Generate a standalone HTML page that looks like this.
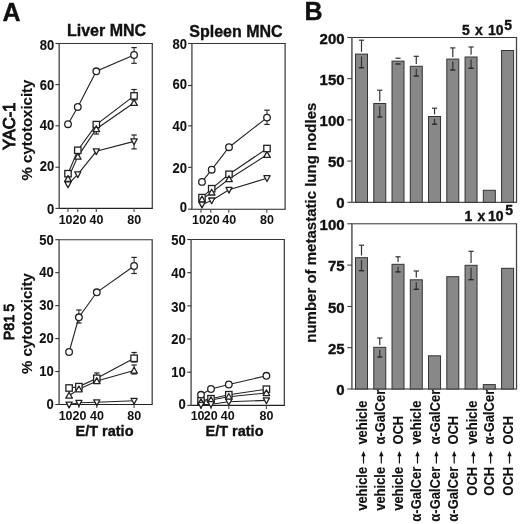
<!DOCTYPE html>
<html><head><meta charset="utf-8"><style>
html,body{margin:0;padding:0;background:#fff;}
svg{display:block;will-change:transform;filter:blur(0.3px);}
text{font-family:"Liberation Sans", sans-serif;fill:#111;stroke:#111;stroke-width:0.35px;}
</style></head><body>
<svg width="520" height="524" viewBox="0 0 520 524">
<rect width="520" height="524" fill="#fff"/>
<line x1="58.50" y1="43.50" x2="152.90" y2="43.50" stroke="#333" stroke-width="1.1" />
<line x1="58.50" y1="208.40" x2="152.90" y2="208.40" stroke="#222" stroke-width="1.1" />
<line x1="59.20" y1="43.50" x2="59.20" y2="208.40" stroke="#666" stroke-width="1.6" />
<line x1="152.30" y1="43.50" x2="152.30" y2="208.40" stroke="#444" stroke-width="1.3" />
<line x1="55.40" y1="43.50" x2="59.20" y2="43.50" stroke="#333" stroke-width="1.1" />
<text transform="translate(54.20,49.80) scale(1,1.08)" font-size="13" font-weight="bold" text-anchor="end" style="stroke-width:0.1px">80</text>
<line x1="55.40" y1="84.60" x2="59.20" y2="84.60" stroke="#333" stroke-width="1.1" />
<text transform="translate(54.20,89.90) scale(1,1.08)" font-size="13" font-weight="bold" text-anchor="end" style="stroke-width:0.1px">60</text>
<line x1="55.40" y1="125.80" x2="59.20" y2="125.80" stroke="#333" stroke-width="1.1" />
<text transform="translate(54.20,130.20) scale(1,1.08)" font-size="13" font-weight="bold" text-anchor="end" style="stroke-width:0.1px">40</text>
<line x1="55.40" y1="167.20" x2="59.20" y2="167.20" stroke="#333" stroke-width="1.1" />
<text transform="translate(54.20,170.80) scale(1,1.08)" font-size="13" font-weight="bold" text-anchor="end" style="stroke-width:0.1px">20</text>
<line x1="55.40" y1="208.40" x2="59.20" y2="208.40" stroke="#333" stroke-width="1.1" />
<text transform="translate(54.20,213.80) scale(1,1.08)" font-size="13" font-weight="bold" text-anchor="end" style="stroke-width:0.1px">0</text>
<line x1="68.00" y1="208.40" x2="68.00" y2="212.00" stroke="#555" stroke-width="1.2" />
<line x1="77.80" y1="208.40" x2="77.80" y2="212.00" stroke="#555" stroke-width="1.2" />
<line x1="96.30" y1="208.40" x2="96.30" y2="212.00" stroke="#555" stroke-width="1.2" />
<line x1="134.05" y1="208.40" x2="134.05" y2="212.00" stroke="#555" stroke-width="1.2" />
<text transform="translate(65.60,224.00) scale(1,1.08)" font-size="12.5" font-weight="bold" text-anchor="middle" style="stroke-width:0">10</text>
<text transform="translate(79.40,224.00) scale(1,1.08)" font-size="12.5" font-weight="bold" text-anchor="middle" style="stroke-width:0">20</text>
<text transform="translate(96.50,224.00) scale(1,1.08)" font-size="12.5" font-weight="bold" text-anchor="middle" style="stroke-width:0">40</text>
<text transform="translate(134.30,224.00) scale(1,1.08)" font-size="12.5" font-weight="bold" text-anchor="middle" style="stroke-width:0">80</text>
<line x1="134.05" y1="47.60" x2="134.05" y2="63.30" stroke="#222" stroke-width="1" />
<line x1="131.35" y1="47.60" x2="136.75" y2="47.60" stroke="#222" stroke-width="1.2" />
<line x1="131.35" y1="63.30" x2="136.75" y2="63.30" stroke="#222" stroke-width="1.2" />
<line x1="134.05" y1="89.50" x2="134.05" y2="100.00" stroke="#222" stroke-width="1" />
<line x1="131.35" y1="89.50" x2="136.75" y2="89.50" stroke="#222" stroke-width="1.2" />
<line x1="131.35" y1="100.00" x2="136.75" y2="100.00" stroke="#222" stroke-width="1.2" />
<line x1="134.05" y1="135.00" x2="134.05" y2="148.90" stroke="#222" stroke-width="1" />
<line x1="131.35" y1="135.00" x2="136.75" y2="135.00" stroke="#222" stroke-width="1.2" />
<line x1="131.35" y1="148.90" x2="136.75" y2="148.90" stroke="#222" stroke-width="1.2" />
<line x1="96.30" y1="122.00" x2="96.30" y2="134.00" stroke="#222" stroke-width="1" />
<line x1="93.60" y1="122.00" x2="99.00" y2="122.00" stroke="#222" stroke-width="1.2" />
<line x1="93.60" y1="134.00" x2="99.00" y2="134.00" stroke="#222" stroke-width="1.2" />
<polyline points="68.00,124.20 77.80,107.00 96.30,71.30 134.05,55.00" fill="none" stroke="#222" stroke-width="1.1"/>
<polyline points="68.00,173.70 77.80,150.30 96.30,124.60 134.05,95.90" fill="none" stroke="#222" stroke-width="1.1"/>
<polyline points="68.00,178.80 77.80,156.60 96.30,129.00 134.05,102.80" fill="none" stroke="#222" stroke-width="1.1"/>
<polyline points="68.00,184.40 77.80,174.30 96.30,151.30 134.05,141.40" fill="none" stroke="#222" stroke-width="1.1"/>
<circle cx="68.00" cy="124.20" r="3.3" fill="#fff" stroke="#222" stroke-width="1.3"/>
<circle cx="77.80" cy="107.00" r="3.3" fill="#fff" stroke="#222" stroke-width="1.3"/>
<circle cx="96.30" cy="71.30" r="3.3" fill="#fff" stroke="#222" stroke-width="1.3"/>
<circle cx="134.05" cy="55.00" r="3.3" fill="#fff" stroke="#222" stroke-width="1.3"/>
<rect x="64.80" y="170.50" width="6.4" height="6.4" fill="#fff" stroke="#222" stroke-width="1.3"/>
<rect x="74.60" y="147.10" width="6.4" height="6.4" fill="#fff" stroke="#222" stroke-width="1.3"/>
<rect x="93.10" y="121.40" width="6.4" height="6.4" fill="#fff" stroke="#222" stroke-width="1.3"/>
<rect x="130.85" y="92.70" width="6.4" height="6.4" fill="#fff" stroke="#222" stroke-width="1.3"/>
<path d="M68.00 175.60L71.30 181.40L64.70 181.40Z" fill="#fff" stroke="#222" stroke-width="1.3" stroke-linejoin="round"/>
<path d="M77.80 153.40L81.10 159.20L74.50 159.20Z" fill="#fff" stroke="#222" stroke-width="1.3" stroke-linejoin="round"/>
<path d="M96.30 125.80L99.60 131.60L93.00 131.60Z" fill="#fff" stroke="#222" stroke-width="1.3" stroke-linejoin="round"/>
<path d="M134.05 99.60L137.35 105.40L130.75 105.40Z" fill="#fff" stroke="#222" stroke-width="1.3" stroke-linejoin="round"/>
<path d="M64.90 181.90L71.10 181.90L68.00 187.70Z" fill="#fff" stroke="#222" stroke-width="1.3" stroke-linejoin="round"/>
<path d="M74.70 171.80L80.90 171.80L77.80 177.60Z" fill="#fff" stroke="#222" stroke-width="1.3" stroke-linejoin="round"/>
<path d="M93.20 148.80L99.40 148.80L96.30 154.60Z" fill="#fff" stroke="#222" stroke-width="1.3" stroke-linejoin="round"/>
<path d="M130.95 138.90L137.15 138.90L134.05 144.70Z" fill="#fff" stroke="#222" stroke-width="1.3" stroke-linejoin="round"/>
<line x1="191.20" y1="43.50" x2="285.70" y2="43.50" stroke="#333" stroke-width="1.1" />
<line x1="191.20" y1="209.20" x2="285.70" y2="209.20" stroke="#222" stroke-width="1.1" />
<line x1="191.90" y1="43.50" x2="191.90" y2="209.20" stroke="#666" stroke-width="1.6" />
<line x1="285.10" y1="43.50" x2="285.10" y2="209.20" stroke="#444" stroke-width="1.3" />
<line x1="188.10" y1="43.50" x2="191.90" y2="43.50" stroke="#333" stroke-width="1.1" />
<text transform="translate(187.00,48.90) scale(1,1.08)" font-size="13" font-weight="bold" text-anchor="end" style="stroke-width:0.1px">80</text>
<line x1="188.10" y1="85.50" x2="191.90" y2="85.50" stroke="#333" stroke-width="1.1" />
<text transform="translate(187.00,89.30) scale(1,1.08)" font-size="13" font-weight="bold" text-anchor="end" style="stroke-width:0.1px">60</text>
<line x1="188.10" y1="125.85" x2="191.90" y2="125.85" stroke="#333" stroke-width="1.1" />
<text transform="translate(187.00,131.10) scale(1,1.08)" font-size="13" font-weight="bold" text-anchor="end" style="stroke-width:0.1px">40</text>
<line x1="188.10" y1="167.35" x2="191.90" y2="167.35" stroke="#333" stroke-width="1.1" />
<text transform="translate(187.00,172.50) scale(1,1.08)" font-size="13" font-weight="bold" text-anchor="end" style="stroke-width:0.1px">20</text>
<line x1="188.10" y1="209.20" x2="191.90" y2="209.20" stroke="#333" stroke-width="1.1" />
<text transform="translate(187.00,211.90) scale(1,1.08)" font-size="13" font-weight="bold" text-anchor="end" style="stroke-width:0.1px">0</text>
<line x1="201.00" y1="209.20" x2="201.00" y2="212.80" stroke="#555" stroke-width="1.2" />
<line x1="210.70" y1="209.20" x2="210.70" y2="212.80" stroke="#555" stroke-width="1.2" />
<line x1="228.80" y1="209.20" x2="228.80" y2="212.80" stroke="#555" stroke-width="1.2" />
<line x1="266.80" y1="209.20" x2="266.80" y2="212.80" stroke="#555" stroke-width="1.2" />
<text transform="translate(199.00,224.00) scale(1,1.08)" font-size="12.5" font-weight="bold" text-anchor="middle" style="stroke-width:0">10</text>
<text transform="translate(212.80,224.00) scale(1,1.08)" font-size="12.5" font-weight="bold" text-anchor="middle" style="stroke-width:0">20</text>
<text transform="translate(229.30,224.00) scale(1,1.08)" font-size="12.5" font-weight="bold" text-anchor="middle" style="stroke-width:0">40</text>
<text transform="translate(267.00,224.00) scale(1,1.08)" font-size="12.5" font-weight="bold" text-anchor="middle" style="stroke-width:0">80</text>
<line x1="267.00" y1="110.20" x2="267.00" y2="124.40" stroke="#222" stroke-width="1" />
<line x1="264.30" y1="110.20" x2="269.70" y2="110.20" stroke="#222" stroke-width="1.2" />
<line x1="264.30" y1="124.40" x2="269.70" y2="124.40" stroke="#222" stroke-width="1.2" />
<polyline points="202.00,181.90 211.70,169.70 229.00,147.20 267.00,117.60" fill="none" stroke="#222" stroke-width="1.1"/>
<polyline points="202.00,197.60 211.70,188.70 229.00,174.30 267.00,148.50" fill="none" stroke="#222" stroke-width="1.1"/>
<polyline points="202.00,199.30 211.70,192.40 229.00,179.00 267.00,154.80" fill="none" stroke="#222" stroke-width="1.1"/>
<polyline points="202.00,204.60 211.70,200.50 229.00,189.80 267.00,178.20" fill="none" stroke="#222" stroke-width="1.1"/>
<circle cx="202.00" cy="181.90" r="3.3" fill="#fff" stroke="#222" stroke-width="1.3"/>
<circle cx="211.70" cy="169.70" r="3.3" fill="#fff" stroke="#222" stroke-width="1.3"/>
<circle cx="229.00" cy="147.20" r="3.3" fill="#fff" stroke="#222" stroke-width="1.3"/>
<circle cx="267.00" cy="117.60" r="3.3" fill="#fff" stroke="#222" stroke-width="1.3"/>
<rect x="198.80" y="194.40" width="6.4" height="6.4" fill="#fff" stroke="#222" stroke-width="1.3"/>
<rect x="208.50" y="185.50" width="6.4" height="6.4" fill="#fff" stroke="#222" stroke-width="1.3"/>
<rect x="225.80" y="171.10" width="6.4" height="6.4" fill="#fff" stroke="#222" stroke-width="1.3"/>
<rect x="263.80" y="145.30" width="6.4" height="6.4" fill="#fff" stroke="#222" stroke-width="1.3"/>
<path d="M202.00 196.10L205.30 201.90L198.70 201.90Z" fill="#fff" stroke="#222" stroke-width="1.3" stroke-linejoin="round"/>
<path d="M211.70 189.20L215.00 195.00L208.40 195.00Z" fill="#fff" stroke="#222" stroke-width="1.3" stroke-linejoin="round"/>
<path d="M229.00 175.80L232.30 181.60L225.70 181.60Z" fill="#fff" stroke="#222" stroke-width="1.3" stroke-linejoin="round"/>
<path d="M267.00 151.60L270.30 157.40L263.70 157.40Z" fill="#fff" stroke="#222" stroke-width="1.3" stroke-linejoin="round"/>
<path d="M198.90 202.10L205.10 202.10L202.00 207.90Z" fill="#fff" stroke="#222" stroke-width="1.3" stroke-linejoin="round"/>
<path d="M208.60 198.00L214.80 198.00L211.70 203.80Z" fill="#fff" stroke="#222" stroke-width="1.3" stroke-linejoin="round"/>
<path d="M225.90 187.30L232.10 187.30L229.00 193.10Z" fill="#fff" stroke="#222" stroke-width="1.3" stroke-linejoin="round"/>
<path d="M263.90 175.70L270.10 175.70L267.00 181.50Z" fill="#fff" stroke="#222" stroke-width="1.3" stroke-linejoin="round"/>
<line x1="58.40" y1="239.70" x2="152.80" y2="239.70" stroke="#333" stroke-width="1.1" />
<line x1="58.40" y1="404.50" x2="152.80" y2="404.50" stroke="#222" stroke-width="1.1" />
<line x1="59.10" y1="239.70" x2="59.10" y2="404.50" stroke="#666" stroke-width="1.6" />
<line x1="152.20" y1="239.70" x2="152.20" y2="404.50" stroke="#444" stroke-width="1.3" />
<line x1="55.30" y1="239.70" x2="59.10" y2="239.70" stroke="#333" stroke-width="1.1" />
<text transform="translate(53.80,244.90) scale(1,1.08)" font-size="13" font-weight="bold" text-anchor="end" style="stroke-width:0.1px">50</text>
<line x1="55.30" y1="272.66" x2="59.10" y2="272.66" stroke="#333" stroke-width="1.1" />
<text transform="translate(53.80,277.36) scale(1,1.08)" font-size="13" font-weight="bold" text-anchor="end" style="stroke-width:0.1px">40</text>
<line x1="55.30" y1="305.62" x2="59.10" y2="305.62" stroke="#333" stroke-width="1.1" />
<text transform="translate(53.80,309.52) scale(1,1.08)" font-size="13" font-weight="bold" text-anchor="end" style="stroke-width:0.1px">30</text>
<line x1="55.30" y1="338.58" x2="59.10" y2="338.58" stroke="#333" stroke-width="1.1" />
<text transform="translate(53.80,343.28) scale(1,1.08)" font-size="13" font-weight="bold" text-anchor="end" style="stroke-width:0.1px">20</text>
<line x1="55.30" y1="371.54" x2="59.10" y2="371.54" stroke="#333" stroke-width="1.1" />
<text transform="translate(53.80,375.64) scale(1,1.08)" font-size="13" font-weight="bold" text-anchor="end" style="stroke-width:0.1px">10</text>
<line x1="55.30" y1="404.50" x2="59.10" y2="404.50" stroke="#333" stroke-width="1.1" />
<text transform="translate(53.80,409.10) scale(1,1.08)" font-size="13" font-weight="bold" text-anchor="end" style="stroke-width:0.1px">0</text>
<line x1="69.10" y1="404.50" x2="69.10" y2="408.10" stroke="#555" stroke-width="1.2" />
<line x1="78.90" y1="404.50" x2="78.90" y2="408.10" stroke="#555" stroke-width="1.2" />
<line x1="96.80" y1="404.50" x2="96.80" y2="408.10" stroke="#555" stroke-width="1.2" />
<line x1="134.10" y1="404.50" x2="134.10" y2="408.10" stroke="#555" stroke-width="1.2" />
<text transform="translate(65.60,419.60) scale(1,1.08)" font-size="12.5" font-weight="bold" text-anchor="middle" style="stroke-width:0">10</text>
<text transform="translate(79.40,419.60) scale(1,1.08)" font-size="12.5" font-weight="bold" text-anchor="middle" style="stroke-width:0">20</text>
<text transform="translate(97.00,419.60) scale(1,1.08)" font-size="12.5" font-weight="bold" text-anchor="middle" style="stroke-width:0">40</text>
<text transform="translate(134.20,419.60) scale(1,1.08)" font-size="12.5" font-weight="bold" text-anchor="middle" style="stroke-width:0">80</text>
<text x="104.50" y="435.50" font-size="14.5" font-weight="bold" text-anchor="middle" >E/T ratio</text>
<line x1="134.10" y1="257.40" x2="134.10" y2="273.50" stroke="#222" stroke-width="1" />
<line x1="131.40" y1="257.40" x2="136.80" y2="257.40" stroke="#222" stroke-width="1.2" />
<line x1="131.40" y1="273.50" x2="136.80" y2="273.50" stroke="#222" stroke-width="1.2" />
<line x1="78.90" y1="310.00" x2="78.90" y2="323.00" stroke="#222" stroke-width="1" />
<line x1="76.20" y1="310.00" x2="81.60" y2="310.00" stroke="#222" stroke-width="1.2" />
<line x1="76.20" y1="323.00" x2="81.60" y2="323.00" stroke="#222" stroke-width="1.2" />
<line x1="134.10" y1="352.50" x2="134.10" y2="362.00" stroke="#222" stroke-width="1" />
<line x1="131.40" y1="352.50" x2="136.80" y2="352.50" stroke="#222" stroke-width="1.2" />
<line x1="131.40" y1="362.00" x2="136.80" y2="362.00" stroke="#222" stroke-width="1.2" />
<line x1="134.10" y1="365.00" x2="134.10" y2="374.00" stroke="#222" stroke-width="1" />
<line x1="131.40" y1="365.00" x2="136.80" y2="365.00" stroke="#222" stroke-width="1.2" />
<line x1="131.40" y1="374.00" x2="136.80" y2="374.00" stroke="#222" stroke-width="1.2" />
<line x1="96.80" y1="373.00" x2="96.80" y2="383.00" stroke="#222" stroke-width="1" />
<line x1="94.10" y1="373.00" x2="99.50" y2="373.00" stroke="#222" stroke-width="1.2" />
<line x1="94.10" y1="383.00" x2="99.50" y2="383.00" stroke="#222" stroke-width="1.2" />
<polyline points="69.10,352.00 78.90,317.30 96.80,292.30 134.10,266.00" fill="none" stroke="#222" stroke-width="1.1"/>
<polyline points="69.10,388.00 78.90,386.60 96.80,378.30 134.10,358.30" fill="none" stroke="#222" stroke-width="1.1"/>
<polyline points="69.10,395.50 78.90,389.20 96.80,381.00 134.10,370.50" fill="none" stroke="#222" stroke-width="1.1"/>
<polyline points="69.10,404.60 78.90,402.80 96.80,402.30 134.10,400.80" fill="none" stroke="#222" stroke-width="1.1"/>
<circle cx="69.10" cy="352.00" r="3.3" fill="#fff" stroke="#222" stroke-width="1.3"/>
<circle cx="78.90" cy="317.30" r="3.3" fill="#fff" stroke="#222" stroke-width="1.3"/>
<circle cx="96.80" cy="292.30" r="3.3" fill="#fff" stroke="#222" stroke-width="1.3"/>
<circle cx="134.10" cy="266.00" r="3.3" fill="#fff" stroke="#222" stroke-width="1.3"/>
<rect x="65.90" y="384.80" width="6.4" height="6.4" fill="#fff" stroke="#222" stroke-width="1.3"/>
<rect x="75.70" y="383.40" width="6.4" height="6.4" fill="#fff" stroke="#222" stroke-width="1.3"/>
<rect x="93.60" y="375.10" width="6.4" height="6.4" fill="#fff" stroke="#222" stroke-width="1.3"/>
<rect x="130.90" y="355.10" width="6.4" height="6.4" fill="#fff" stroke="#222" stroke-width="1.3"/>
<path d="M69.10 392.30L72.40 398.10L65.80 398.10Z" fill="#fff" stroke="#222" stroke-width="1.3" stroke-linejoin="round"/>
<path d="M78.90 386.00L82.20 391.80L75.60 391.80Z" fill="#fff" stroke="#222" stroke-width="1.3" stroke-linejoin="round"/>
<path d="M96.80 377.80L100.10 383.60L93.50 383.60Z" fill="#fff" stroke="#222" stroke-width="1.3" stroke-linejoin="round"/>
<path d="M134.10 367.30L137.40 373.10L130.80 373.10Z" fill="#fff" stroke="#222" stroke-width="1.3" stroke-linejoin="round"/>
<path d="M66.00 402.10L72.20 402.10L69.10 407.90Z" fill="#fff" stroke="#222" stroke-width="1.3" stroke-linejoin="round"/>
<path d="M75.80 400.30L82.00 400.30L78.90 406.10Z" fill="#fff" stroke="#222" stroke-width="1.3" stroke-linejoin="round"/>
<path d="M93.70 399.80L99.90 399.80L96.80 405.60Z" fill="#fff" stroke="#222" stroke-width="1.3" stroke-linejoin="round"/>
<path d="M131.00 398.30L137.20 398.30L134.10 404.10Z" fill="#fff" stroke="#222" stroke-width="1.3" stroke-linejoin="round"/>
<line x1="190.40" y1="239.50" x2="284.95" y2="239.50" stroke="#333" stroke-width="1.1" />
<line x1="190.40" y1="405.35" x2="284.95" y2="405.35" stroke="#222" stroke-width="1.1" />
<line x1="191.10" y1="239.50" x2="191.10" y2="405.35" stroke="#666" stroke-width="1.6" />
<line x1="284.35" y1="239.50" x2="284.35" y2="405.35" stroke="#444" stroke-width="1.3" />
<line x1="187.30" y1="239.50" x2="191.10" y2="239.50" stroke="#333" stroke-width="1.1" />
<text transform="translate(185.80,244.90) scale(1,1.08)" font-size="13" font-weight="bold" text-anchor="end" style="stroke-width:0.1px">50</text>
<line x1="187.30" y1="272.67" x2="191.10" y2="272.67" stroke="#333" stroke-width="1.1" />
<text transform="translate(185.80,277.87) scale(1,1.08)" font-size="13" font-weight="bold" text-anchor="end" style="stroke-width:0.1px">40</text>
<line x1="187.30" y1="305.84" x2="191.10" y2="305.84" stroke="#333" stroke-width="1.1" />
<text transform="translate(185.80,311.94) scale(1,1.08)" font-size="13" font-weight="bold" text-anchor="end" style="stroke-width:0.1px">30</text>
<line x1="187.30" y1="339.01" x2="191.10" y2="339.01" stroke="#333" stroke-width="1.1" />
<text transform="translate(185.80,343.91) scale(1,1.08)" font-size="13" font-weight="bold" text-anchor="end" style="stroke-width:0.1px">20</text>
<line x1="187.30" y1="372.18" x2="191.10" y2="372.18" stroke="#333" stroke-width="1.1" />
<text transform="translate(185.80,376.98) scale(1,1.08)" font-size="13" font-weight="bold" text-anchor="end" style="stroke-width:0.1px">10</text>
<line x1="187.30" y1="405.35" x2="191.10" y2="405.35" stroke="#333" stroke-width="1.1" />
<text transform="translate(185.80,409.40) scale(1,1.08)" font-size="13" font-weight="bold" text-anchor="end" style="stroke-width:0.1px">0</text>
<line x1="201.00" y1="405.35" x2="201.00" y2="408.95" stroke="#555" stroke-width="1.2" />
<line x1="211.00" y1="405.35" x2="211.00" y2="408.95" stroke="#555" stroke-width="1.2" />
<line x1="228.80" y1="405.35" x2="228.80" y2="408.95" stroke="#555" stroke-width="1.2" />
<line x1="266.40" y1="405.35" x2="266.40" y2="408.95" stroke="#555" stroke-width="1.2" />
<text transform="translate(197.60,420.40) scale(1,1.08)" font-size="12.5" font-weight="bold" text-anchor="middle" style="stroke-width:0">10</text>
<text transform="translate(210.80,420.40) scale(1,1.08)" font-size="12.5" font-weight="bold" text-anchor="middle" style="stroke-width:0">20</text>
<text transform="translate(227.70,420.40) scale(1,1.08)" font-size="12.5" font-weight="bold" text-anchor="middle" style="stroke-width:0">40</text>
<text transform="translate(266.50,420.40) scale(1,1.08)" font-size="12.5" font-weight="bold" text-anchor="middle" style="stroke-width:0">80</text>
<text x="234.50" y="435.50" font-size="14.5" font-weight="bold" text-anchor="middle" >E/T ratio</text>
<polyline points="201.00,394.80 211.00,389.00 228.80,384.50 266.40,375.80" fill="none" stroke="#222" stroke-width="1.1"/>
<polyline points="201.00,400.90 211.00,398.70 228.80,394.70 266.40,389.20" fill="none" stroke="#222" stroke-width="1.1"/>
<polyline points="201.00,402.00 211.00,400.00 228.80,396.70 266.40,393.00" fill="none" stroke="#222" stroke-width="1.1"/>
<polyline points="201.00,404.80 211.00,404.20 228.80,401.70 266.40,400.40" fill="none" stroke="#222" stroke-width="1.1"/>
<circle cx="201.00" cy="394.80" r="3.3" fill="#fff" stroke="#222" stroke-width="1.3"/>
<circle cx="211.00" cy="389.00" r="3.3" fill="#fff" stroke="#222" stroke-width="1.3"/>
<circle cx="228.80" cy="384.50" r="3.3" fill="#fff" stroke="#222" stroke-width="1.3"/>
<circle cx="266.40" cy="375.80" r="3.3" fill="#fff" stroke="#222" stroke-width="1.3"/>
<rect x="197.80" y="397.70" width="6.4" height="6.4" fill="#fff" stroke="#222" stroke-width="1.3"/>
<rect x="207.80" y="395.50" width="6.4" height="6.4" fill="#fff" stroke="#222" stroke-width="1.3"/>
<rect x="225.60" y="391.50" width="6.4" height="6.4" fill="#fff" stroke="#222" stroke-width="1.3"/>
<rect x="263.20" y="386.00" width="6.4" height="6.4" fill="#fff" stroke="#222" stroke-width="1.3"/>
<path d="M201.00 398.80L204.30 404.60L197.70 404.60Z" fill="#fff" stroke="#222" stroke-width="1.3" stroke-linejoin="round"/>
<path d="M211.00 396.80L214.30 402.60L207.70 402.60Z" fill="#fff" stroke="#222" stroke-width="1.3" stroke-linejoin="round"/>
<path d="M228.80 393.50L232.10 399.30L225.50 399.30Z" fill="#fff" stroke="#222" stroke-width="1.3" stroke-linejoin="round"/>
<path d="M266.40 389.80L269.70 395.60L263.10 395.60Z" fill="#fff" stroke="#222" stroke-width="1.3" stroke-linejoin="round"/>
<path d="M197.90 402.30L204.10 402.30L201.00 408.10Z" fill="#fff" stroke="#222" stroke-width="1.3" stroke-linejoin="round"/>
<path d="M207.90 401.70L214.10 401.70L211.00 407.50Z" fill="#fff" stroke="#222" stroke-width="1.3" stroke-linejoin="round"/>
<path d="M225.70 399.20L231.90 399.20L228.80 405.00Z" fill="#fff" stroke="#222" stroke-width="1.3" stroke-linejoin="round"/>
<path d="M263.30 397.90L269.50 397.90L266.40 403.70Z" fill="#fff" stroke="#222" stroke-width="1.3" stroke-linejoin="round"/>
<text x="106.50" y="36.30" font-size="16" font-weight="bold" text-anchor="middle" >Liver MNC</text>
<text x="236.00" y="36.60" font-size="16" font-weight="bold" text-anchor="middle" >Spleen MNC</text>
<text x="2.50" y="20.80" font-size="25" font-weight="bold" text-anchor="start" >A</text>
<text x="304.40" y="19.80" font-size="25" font-weight="bold" text-anchor="start" >B</text>
<text transform="translate(14.5,126.3) rotate(-90)" font-size="16.5" font-weight="normal" text-anchor="middle" style="stroke-width:1.0px">YAC-1</text>
<text transform="translate(31.5,130) rotate(-90)" font-size="15" font-weight="bold" text-anchor="middle" style="stroke-width:0.15px">% cytotoxicity</text>
<text transform="translate(13.8,322.1) rotate(-90) scale(0.9,0.92)" font-size="16" font-weight="normal" text-anchor="middle" style="stroke-width:1.0px">P81<tspan dx="3.2">5</tspan></text>
<text transform="translate(31.5,323.6) rotate(-90)" font-size="15" font-weight="bold" text-anchor="middle" style="stroke-width:0.15px">% cytotoxicity</text>
<line x1="351.90" y1="37.50" x2="516.50" y2="37.50" stroke="#333" stroke-width="1" />
<line x1="351.90" y1="202.30" x2="516.50" y2="202.30" stroke="#222" stroke-width="1" />
<line x1="351.90" y1="37.00" x2="351.90" y2="202.80" stroke="#6a6a6a" stroke-width="1.7" />
<line x1="516.50" y1="37.00" x2="516.50" y2="202.80" stroke="#444" stroke-width="1.3" />
<line x1="347.30" y1="37.50" x2="351.90" y2="37.50" stroke="#333" stroke-width="1" />
<text x="344.60" y="43.60" font-size="15" font-weight="bold" text-anchor="end" >200</text>
<line x1="347.30" y1="78.70" x2="351.90" y2="78.70" stroke="#333" stroke-width="1" />
<text x="344.60" y="84.80" font-size="15" font-weight="bold" text-anchor="end" >150</text>
<line x1="347.30" y1="119.90" x2="351.90" y2="119.90" stroke="#333" stroke-width="1" />
<text x="344.60" y="126.00" font-size="15" font-weight="bold" text-anchor="end" >100</text>
<line x1="347.30" y1="161.10" x2="351.90" y2="161.10" stroke="#333" stroke-width="1" />
<text x="344.60" y="167.20" font-size="15" font-weight="bold" text-anchor="end" >50</text>
<line x1="347.30" y1="202.30" x2="351.90" y2="202.30" stroke="#333" stroke-width="1" />
<text x="344.60" y="208.40" font-size="15" font-weight="bold" text-anchor="end" >0</text>
<rect x="355.50" y="54.10" width="12" height="148.20" fill="#888" stroke="#333" stroke-width="1"/>
<rect x="373.76" y="103.50" width="12" height="98.80" fill="#888" stroke="#333" stroke-width="1"/>
<rect x="392.02" y="61.10" width="12" height="141.20" fill="#888" stroke="#333" stroke-width="1"/>
<rect x="410.28" y="66.30" width="12" height="136.00" fill="#888" stroke="#333" stroke-width="1"/>
<rect x="428.54" y="116.50" width="12" height="85.80" fill="#888" stroke="#333" stroke-width="1"/>
<rect x="446.80" y="59.10" width="12" height="143.20" fill="#888" stroke="#333" stroke-width="1"/>
<rect x="465.06" y="57.00" width="12" height="145.30" fill="#888" stroke="#333" stroke-width="1"/>
<rect x="483.32" y="190.30" width="12" height="12.00" fill="#888" stroke="#333" stroke-width="1"/>
<rect x="501.58" y="50.50" width="12" height="151.80" fill="#888" stroke="#333" stroke-width="1"/>
<line x1="361.50" y1="40.20" x2="361.50" y2="51.90" stroke="#333" stroke-width="1.2" />
<line x1="358.90" y1="40.20" x2="364.10" y2="40.20" stroke="#333" stroke-width="1.2" />
<line x1="361.50" y1="56.50" x2="361.50" y2="67.70" stroke="#333" stroke-width="1.2" />
<line x1="358.90" y1="67.70" x2="364.10" y2="67.70" stroke="#222" stroke-width="1.3" />
<line x1="379.76" y1="90.20" x2="379.76" y2="101.30" stroke="#333" stroke-width="1.2" />
<line x1="377.16" y1="90.20" x2="382.36" y2="90.20" stroke="#333" stroke-width="1.2" />
<line x1="379.76" y1="105.90" x2="379.76" y2="117.00" stroke="#333" stroke-width="1.2" />
<line x1="377.16" y1="117.00" x2="382.36" y2="117.00" stroke="#222" stroke-width="1.3" />
<line x1="398.02" y1="58.20" x2="398.02" y2="58.90" stroke="#333" stroke-width="1.2" />
<line x1="395.42" y1="58.20" x2="400.62" y2="58.20" stroke="#333" stroke-width="1.2" />
<line x1="398.02" y1="63.50" x2="398.02" y2="64.00" stroke="#333" stroke-width="1.2" />
<line x1="395.42" y1="64.00" x2="400.62" y2="64.00" stroke="#222" stroke-width="1.3" />
<line x1="416.28" y1="56.30" x2="416.28" y2="64.10" stroke="#333" stroke-width="1.2" />
<line x1="413.68" y1="56.30" x2="418.88" y2="56.30" stroke="#333" stroke-width="1.2" />
<line x1="416.28" y1="68.70" x2="416.28" y2="76.00" stroke="#333" stroke-width="1.2" />
<line x1="413.68" y1="76.00" x2="418.88" y2="76.00" stroke="#222" stroke-width="1.3" />
<line x1="434.54" y1="108.20" x2="434.54" y2="114.30" stroke="#333" stroke-width="1.2" />
<line x1="431.94" y1="108.20" x2="437.14" y2="108.20" stroke="#333" stroke-width="1.2" />
<line x1="434.54" y1="118.90" x2="434.54" y2="124.20" stroke="#333" stroke-width="1.2" />
<line x1="431.94" y1="124.20" x2="437.14" y2="124.20" stroke="#222" stroke-width="1.3" />
<line x1="452.80" y1="47.90" x2="452.80" y2="56.90" stroke="#333" stroke-width="1.2" />
<line x1="450.20" y1="47.90" x2="455.40" y2="47.90" stroke="#333" stroke-width="1.2" />
<line x1="452.80" y1="61.50" x2="452.80" y2="70.00" stroke="#333" stroke-width="1.2" />
<line x1="450.20" y1="70.00" x2="455.40" y2="70.00" stroke="#222" stroke-width="1.3" />
<line x1="471.06" y1="47.00" x2="471.06" y2="54.80" stroke="#333" stroke-width="1.2" />
<line x1="468.46" y1="47.00" x2="473.66" y2="47.00" stroke="#333" stroke-width="1.2" />
<line x1="471.06" y1="59.40" x2="471.06" y2="68.30" stroke="#333" stroke-width="1.2" />
<line x1="468.46" y1="68.30" x2="473.66" y2="68.30" stroke="#222" stroke-width="1.3" />
<text x="461.9" y="34.8" font-size="14" font-weight="bold">5</text><text x="474.9" y="34.8" font-size="14" font-weight="bold">x</text><text x="487.9" y="34.8" font-size="14" font-weight="bold">10</text><text x="504.3" y="29.6" font-size="14" font-weight="bold">5</text>
<line x1="351.90" y1="223.80" x2="516.50" y2="223.80" stroke="#333" stroke-width="1" />
<line x1="351.90" y1="389.00" x2="516.50" y2="389.00" stroke="#222" stroke-width="1" />
<line x1="351.90" y1="223.30" x2="351.90" y2="389.50" stroke="#6a6a6a" stroke-width="1.7" />
<line x1="516.50" y1="223.30" x2="516.50" y2="389.50" stroke="#444" stroke-width="1.3" />
<line x1="347.30" y1="223.80" x2="351.90" y2="223.80" stroke="#333" stroke-width="1" />
<text x="344.60" y="229.90" font-size="15" font-weight="bold" text-anchor="end" >100</text>
<line x1="347.30" y1="265.10" x2="351.90" y2="265.10" stroke="#333" stroke-width="1" />
<text x="344.60" y="271.20" font-size="15" font-weight="bold" text-anchor="end" >75</text>
<line x1="347.30" y1="306.40" x2="351.90" y2="306.40" stroke="#333" stroke-width="1" />
<text x="344.60" y="312.50" font-size="15" font-weight="bold" text-anchor="end" >50</text>
<line x1="347.30" y1="347.70" x2="351.90" y2="347.70" stroke="#333" stroke-width="1" />
<text x="344.60" y="353.80" font-size="15" font-weight="bold" text-anchor="end" >25</text>
<line x1="347.30" y1="389.00" x2="351.90" y2="389.00" stroke="#333" stroke-width="1" />
<text x="344.60" y="395.10" font-size="15" font-weight="bold" text-anchor="end" >0</text>
<rect x="355.50" y="257.70" width="12" height="131.30" fill="#888" stroke="#333" stroke-width="1"/>
<rect x="373.76" y="347.30" width="12" height="41.70" fill="#888" stroke="#333" stroke-width="1"/>
<rect x="392.02" y="264.30" width="12" height="124.70" fill="#888" stroke="#333" stroke-width="1"/>
<rect x="410.28" y="279.80" width="12" height="109.20" fill="#888" stroke="#333" stroke-width="1"/>
<rect x="428.54" y="355.80" width="12" height="33.20" fill="#888" stroke="#333" stroke-width="1"/>
<rect x="446.80" y="276.70" width="12" height="112.30" fill="#888" stroke="#333" stroke-width="1"/>
<rect x="465.06" y="265.30" width="12" height="123.70" fill="#888" stroke="#333" stroke-width="1"/>
<rect x="483.32" y="384.60" width="12" height="4.40" fill="#888" stroke="#333" stroke-width="1"/>
<rect x="501.58" y="268.30" width="12" height="120.70" fill="#888" stroke="#333" stroke-width="1"/>
<line x1="361.50" y1="245.20" x2="361.50" y2="255.50" stroke="#333" stroke-width="1.2" />
<line x1="358.90" y1="245.20" x2="364.10" y2="245.20" stroke="#333" stroke-width="1.2" />
<line x1="361.50" y1="260.10" x2="361.50" y2="270.70" stroke="#333" stroke-width="1.2" />
<line x1="358.90" y1="270.70" x2="364.10" y2="270.70" stroke="#222" stroke-width="1.3" />
<line x1="379.76" y1="338.00" x2="379.76" y2="345.10" stroke="#333" stroke-width="1.2" />
<line x1="377.16" y1="338.00" x2="382.36" y2="338.00" stroke="#333" stroke-width="1.2" />
<line x1="379.76" y1="349.70" x2="379.76" y2="357.00" stroke="#333" stroke-width="1.2" />
<line x1="377.16" y1="357.00" x2="382.36" y2="357.00" stroke="#222" stroke-width="1.3" />
<line x1="398.02" y1="256.80" x2="398.02" y2="262.10" stroke="#333" stroke-width="1.2" />
<line x1="395.42" y1="256.80" x2="400.62" y2="256.80" stroke="#333" stroke-width="1.2" />
<line x1="398.02" y1="266.70" x2="398.02" y2="271.90" stroke="#333" stroke-width="1.2" />
<line x1="395.42" y1="271.90" x2="400.62" y2="271.90" stroke="#222" stroke-width="1.3" />
<line x1="416.28" y1="271.00" x2="416.28" y2="277.60" stroke="#333" stroke-width="1.2" />
<line x1="413.68" y1="271.00" x2="418.88" y2="271.00" stroke="#333" stroke-width="1.2" />
<line x1="416.28" y1="282.20" x2="416.28" y2="289.30" stroke="#333" stroke-width="1.2" />
<line x1="413.68" y1="289.30" x2="418.88" y2="289.30" stroke="#222" stroke-width="1.3" />
<line x1="471.06" y1="251.30" x2="471.06" y2="263.10" stroke="#333" stroke-width="1.2" />
<line x1="468.46" y1="251.30" x2="473.66" y2="251.30" stroke="#333" stroke-width="1.2" />
<line x1="471.06" y1="267.70" x2="471.06" y2="279.70" stroke="#333" stroke-width="1.2" />
<line x1="468.46" y1="279.70" x2="473.66" y2="279.70" stroke="#222" stroke-width="1.3" />
<text x="464.4" y="221.0" font-size="14" font-weight="bold">1</text><text x="477.4" y="221.0" font-size="14" font-weight="bold">x</text><text x="487.9" y="221.0" font-size="14" font-weight="bold">10</text><text x="505.3" y="215.4" font-size="14" font-weight="bold">5</text>
<text transform="translate(315.7,222.7) rotate(-90)" font-size="15" font-weight="bold" text-anchor="middle" style="stroke-width:0.2px">number of metastatic lung nodles</text>
<text transform="translate(366.90,466.8) rotate(-90) scale(1,1.06)" font-size="13" font-weight="bold" text-anchor="end" style="stroke-width:0.1px">vehicle</text>
<text transform="translate(366.90,444.6) rotate(-90) scale(1,1.06)" font-size="13" font-weight="bold" text-anchor="start" style="stroke-width:0.1px">vehicle</text>
<line x1="363.50" y1="463.50" x2="363.50" y2="455.00" stroke="#111" stroke-width="1.2" />
<path d="M361.30 456.2L363.50 451.0L365.70 456.2Z" fill="#111"/>
<text transform="translate(384.70,466.8) rotate(-90) scale(1,1.06)" font-size="13" font-weight="bold" text-anchor="end" style="stroke-width:0.1px">vehicle</text>
<text transform="translate(384.70,444.6) rotate(-90) scale(1,1.06)" font-size="13" font-weight="bold" text-anchor="start" style="stroke-width:0.1px">&#945;-GalCer</text>
<line x1="381.30" y1="463.50" x2="381.30" y2="455.00" stroke="#111" stroke-width="1.2" />
<path d="M379.10 456.2L381.30 451.0L383.50 456.2Z" fill="#111"/>
<text transform="translate(402.80,466.8) rotate(-90) scale(1,1.06)" font-size="13" font-weight="bold" text-anchor="end" style="stroke-width:0.1px">vehicle</text>
<text transform="translate(402.80,444.6) rotate(-90) scale(1,1.06)" font-size="13" font-weight="bold" text-anchor="start" style="stroke-width:0.1px">OCH</text>
<line x1="399.40" y1="463.50" x2="399.40" y2="455.00" stroke="#111" stroke-width="1.2" />
<path d="M397.20 456.2L399.40 451.0L401.60 456.2Z" fill="#111"/>
<text transform="translate(420.90,466.8) rotate(-90) scale(1,1.06)" font-size="13" font-weight="bold" text-anchor="end" style="stroke-width:0.1px">&#945;-GalCer</text>
<text transform="translate(420.90,444.6) rotate(-90) scale(1,1.06)" font-size="13" font-weight="bold" text-anchor="start" style="stroke-width:0.1px">vehicle</text>
<line x1="417.50" y1="463.50" x2="417.50" y2="455.00" stroke="#111" stroke-width="1.2" />
<path d="M415.30 456.2L417.50 451.0L419.70 456.2Z" fill="#111"/>
<text transform="translate(439.80,466.8) rotate(-90) scale(1,1.06)" font-size="13" font-weight="bold" text-anchor="end" style="stroke-width:0.1px">&#945;-GalCer</text>
<text transform="translate(439.80,444.6) rotate(-90) scale(1,1.06)" font-size="13" font-weight="bold" text-anchor="start" style="stroke-width:0.1px">&#945;-GalCer</text>
<line x1="436.40" y1="463.50" x2="436.40" y2="455.00" stroke="#111" stroke-width="1.2" />
<path d="M434.20 456.2L436.40 451.0L438.60 456.2Z" fill="#111"/>
<text transform="translate(457.60,466.8) rotate(-90) scale(1,1.06)" font-size="13" font-weight="bold" text-anchor="end" style="stroke-width:0.1px">&#945;-GalCer</text>
<text transform="translate(457.60,444.6) rotate(-90) scale(1,1.06)" font-size="13" font-weight="bold" text-anchor="start" style="stroke-width:0.1px">OCH</text>
<line x1="454.20" y1="463.50" x2="454.20" y2="455.00" stroke="#111" stroke-width="1.2" />
<path d="M452.00 456.2L454.20 451.0L456.40 456.2Z" fill="#111"/>
<text transform="translate(476.80,466.8) rotate(-90) scale(1,1.06)" font-size="13" font-weight="bold" text-anchor="end" style="stroke-width:0.1px">OCH</text>
<text transform="translate(476.80,444.6) rotate(-90) scale(1,1.06)" font-size="13" font-weight="bold" text-anchor="start" style="stroke-width:0.1px">vehicle</text>
<line x1="473.40" y1="463.50" x2="473.40" y2="455.00" stroke="#111" stroke-width="1.2" />
<path d="M471.20 456.2L473.40 451.0L475.60 456.2Z" fill="#111"/>
<text transform="translate(494.00,466.8) rotate(-90) scale(1,1.06)" font-size="13" font-weight="bold" text-anchor="end" style="stroke-width:0.1px">OCH</text>
<text transform="translate(494.00,444.6) rotate(-90) scale(1,1.06)" font-size="13" font-weight="bold" text-anchor="start" style="stroke-width:0.1px">&#945;-GalCer</text>
<line x1="490.60" y1="463.50" x2="490.60" y2="455.00" stroke="#111" stroke-width="1.2" />
<path d="M488.40 456.2L490.60 451.0L492.80 456.2Z" fill="#111"/>
<text transform="translate(512.90,466.8) rotate(-90) scale(1,1.06)" font-size="13" font-weight="bold" text-anchor="end" style="stroke-width:0.1px">OCH</text>
<text transform="translate(512.90,444.6) rotate(-90) scale(1,1.06)" font-size="13" font-weight="bold" text-anchor="start" style="stroke-width:0.1px">OCH</text>
<line x1="509.50" y1="463.50" x2="509.50" y2="455.00" stroke="#111" stroke-width="1.2" />
<path d="M507.30 456.2L509.50 451.0L511.70 456.2Z" fill="#111"/>
</svg>
</body></html>
